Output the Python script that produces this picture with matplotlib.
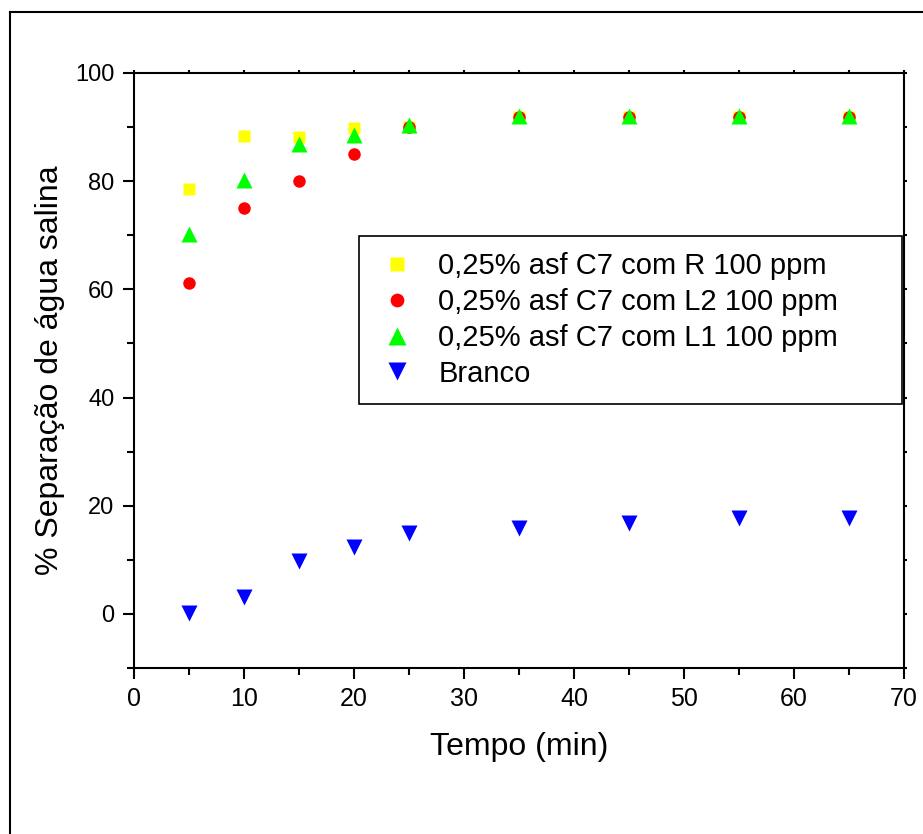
import matplotlib.pyplot as plt
from matplotlib.lines import Line2D
from matplotlib.ticker import MultipleLocator

plt.rcParams['font.family'] = ['Liberation Sans', 'DejaVu Sans']

# Data
tempo = [5, 10, 15, 20, 25, 35, 45, 55, 65]
sep_r = [78.5, 88.3, 88.2, 89.9, 90.1, 91.8, 91.8, 91.8, 91.8]
sep_l2 = [61.1, 75.1, 80.1, 85.0, 90.0, 91.8, 91.8, 91.8, 91.8]
sep_l1 = [70.3, 80.3, 86.9, 88.6, 90.4, 92.0, 92.0, 92.0, 92.0]
sep_branco = [0.1, 3.2, 9.8, 12.3, 14.9, 15.8, 16.8, 17.8, 17.8]

labels = ['0,25% asf C7 com R 100 ppm',
          '0,25% asf C7 com L2 100 ppm',
          '0,25% asf C7 com L1 100 ppm',
          'Branco']

fig = plt.figure(figsize=(9.23, 8.34), dpi=100)
ax = fig.add_axes([0.1452, 0.199, 0.834, 0.7135])

ax.plot(tempo, sep_r, 's', color='#FFFF00', ms=9, mec='none', label=labels[0])
ax.plot(tempo, sep_l2, 'o', color='#FF0000', ms=9, mec='none', label=labels[1])
ax.plot(tempo, sep_l1, '^', color='#00FF00', ms=12, mec='none', label=labels[2])
ax.plot(tempo, sep_branco, 'v', color='#0000FF', ms=12, mec='none', label=labels[3])

ax.set_xlim(0, 70)
ax.set_ylim(-10, 100)
ax.xaxis.set_major_locator(MultipleLocator(10))
ax.xaxis.set_minor_locator(MultipleLocator(5))
ax.yaxis.set_major_locator(MultipleLocator(20))
ax.yaxis.set_minor_locator(MultipleLocator(10))
ax.tick_params(which='both', direction='out', width=1.5, labelsize=17,
               top=True, right=True, labeltop=False, labelright=False)
ax.tick_params(axis='x', labelsize=18)
ax.tick_params(which='major', length=8, pad=6)
ax.tick_params(which='minor', length=5)
for t in (ax.xaxis.get_major_ticks() + ax.xaxis.get_minor_ticks()
          + ax.yaxis.get_major_ticks() + ax.yaxis.get_minor_ticks()):
    t.tick2line.set_markersize(2)
for s in ax.spines.values():
    s.set_linewidth(1.5)

ax.set_xlabel('Tempo (min)', fontsize=23, labelpad=15)
ax.set_ylabel('% Separação de água salina', fontsize=23, labelpad=7)

leg = ax.legend(loc='upper left', bbox_to_anchor=(0.292, 0.626, 0.706, 0.1),
                mode='expand', fontsize=21,
                frameon=True, fancybox=False, framealpha=1, edgecolor='black',
                borderpad=0.55, labelspacing=0.27, handlelength=1.5,
                handletextpad=0.67, borderaxespad=0, markerscale=1.1)
leg.get_frame().set_linewidth(1.2)

# outer frame around the figure (only top and left visible in the image)
fig.add_artist(Line2D([10 / 923, 10 / 923], [0, 1 - 12 / 834], color='black', lw=1.5))
fig.add_artist(Line2D([10 / 923, 1], [1 - 12 / 834, 1 - 12 / 834], color='black', lw=1.5))

fig.savefig('out.png', dpi=100)
